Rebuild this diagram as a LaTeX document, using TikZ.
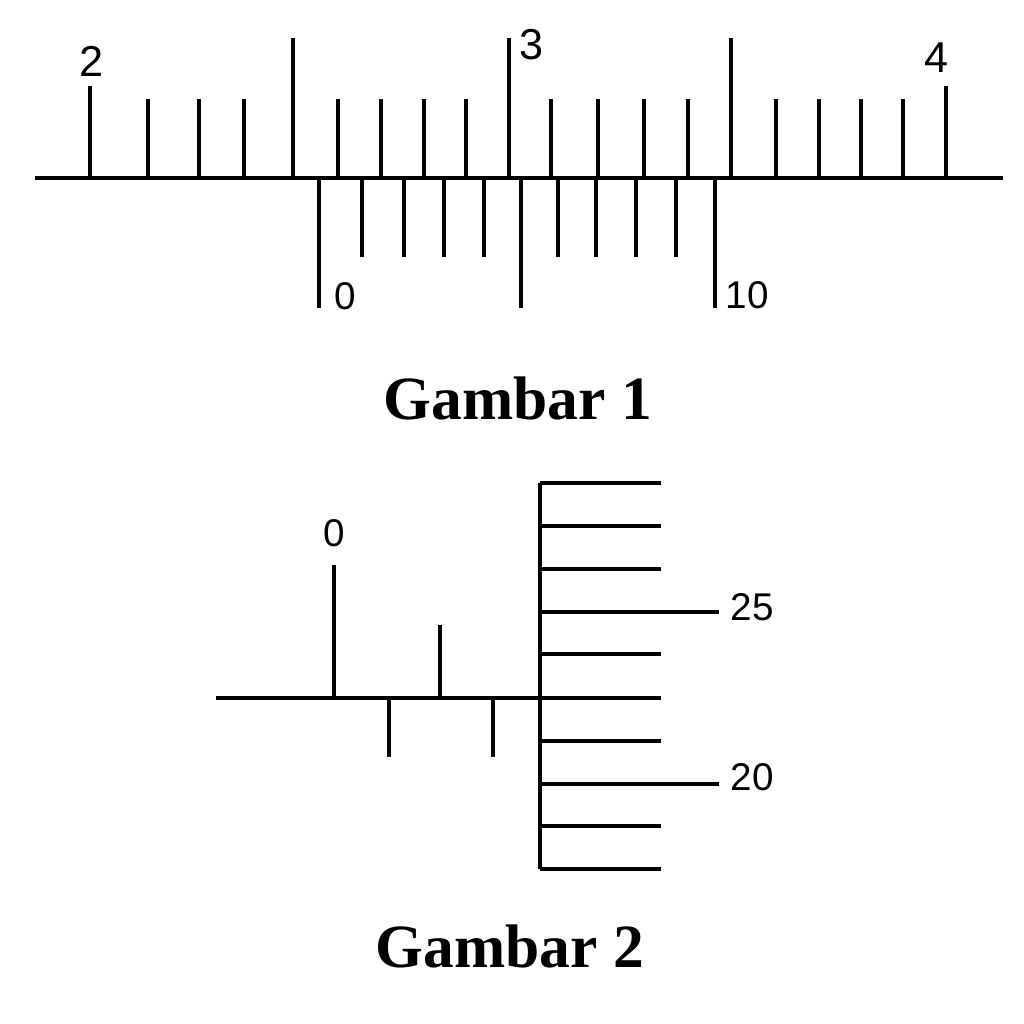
\documentclass[tikz,border=0pt]{standalone}
\usepackage{fontspec}
\setmainfont{Liberation Serif}
\setsansfont{Liberation Sans}

\begin{document}
\begin{tikzpicture}[x=0.02cm,y=-0.02cm,
  tick/.style={line width=1.75pt},
  rail/.style={line width=2pt},
  num/.style={font=\sffamily\fontsize{24.6}{26}\selectfont,inner sep=0pt},
  vnum/.style={font=\sffamily\fontsize{22}{24}\selectfont,inner sep=0pt},
  title/.style={font=\bfseries\fontsize{35}{38}\selectfont,inner sep=0pt,anchor=base}]
\useasboundingbox (0,0) rectangle (1024,1024);
% Gambar 1: main scale above, vernier below
\draw[rail] (35,178) -- (1003,178);
\foreach \x in {148,199,244,338,381,424,466,551,598,644,688,776,819,861,903}
  \draw[tick] (\x,178) -- (\x,99);
\foreach \x in {90,946} \draw[tick] (\x,178) -- (\x,86);
\foreach \x in {293,509,731} \draw[tick] (\x,178) -- (\x,38);
\foreach \x in {362,404,444,484,558,596,636,676} \draw[tick] (\x,179) -- (\x,257);
\foreach \x in {319,521,715} \draw[tick] (\x,179) -- (\x,308);
\node[num] (m2) at (92,61) {2};
\node[num] (m3) at (532,45) {3};
\node[num] (m4) at (937,58) {4};
\node[vnum] (v0) at (345,296) {0};
\node[vnum] (v10) at (747,295) {10};
\node[title] (g1) at (518,419) {Gambar 1};
% Gambar 2: sleeve and thimble
\draw[tick] (216,698) -- (540,698);
\draw[tick] (334,698) -- (334,565);
\draw[tick] (440,698) -- (440,625);
\draw[tick] (389,698) -- (389,757);
\draw[tick] (493,698) -- (493,757);
\draw[rail] (540,483) -- (540,869);
\foreach \y in {483,526,569,654,698,741,826,869} \draw[tick] (540,\y) -- (661,\y);
\foreach \y in {612,784} \draw[tick] (540,\y) -- (719,\y);
\node[vnum] (s0) at (334,533) {0};
\node[vnum] (t25) at (752,607) {25};
\node[vnum] (t20) at (752,777) {20};
\node[title] (g2) at (510,967) {Gambar 2};
\end{tikzpicture}
\end{document}
